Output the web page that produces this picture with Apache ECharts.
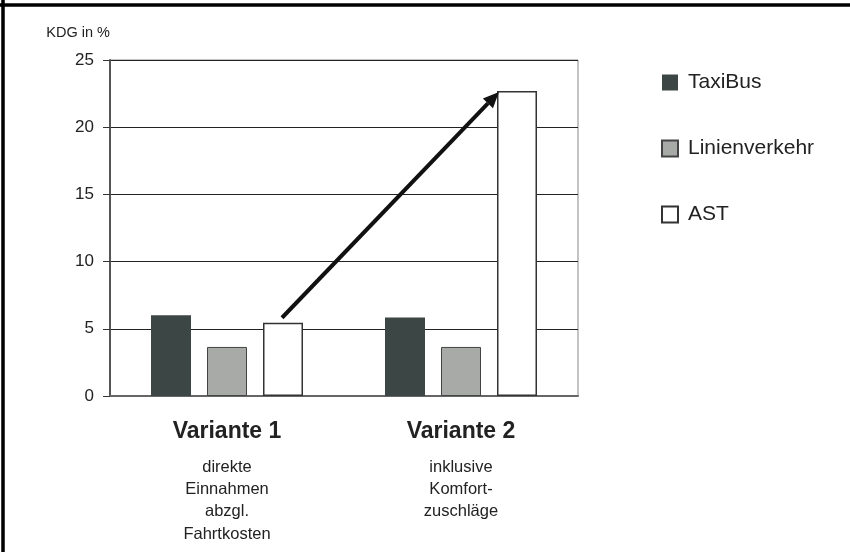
<!DOCTYPE html>
<html>
<head>
<meta charset="utf-8">
<script src="https://cdn.jsdelivr.net/npm/echarts@6/dist/echarts.min.js"></script>
<style>
  html, body { margin: 0; padding: 0; background: #fff; }
  #chart { width: 850px; height: 552px; }
</style>
</head>
<body>
<div id="chart"></div>
<script>
// Daten
const categories = ['Variante 1', 'Variante 2'];
const subLabels = [
    ['direkte', 'Einnahmen', 'abzgl.', 'Fahrtkosten'],
    ['inklusive', 'Komfort-', 'zuschläge']
];
const taxiBus = [6.0, 5.85];
const linienverkehr = [3.65, 3.65];
const ast = [5.45, 22.7];
const yTicks = [0, 5, 10, 15, 20, 25];

const BAR_W = 40;
const BAR_GAP = 16;

const chart = echarts.init(document.getElementById('chart'));

const option = {
    animation: false,
    textStyle: { fontFamily: 'Liberation Sans, Arial, sans-serif', color: '#222' },
    grid: {
        left: 110, right: 272, top: 60, bottom: 156,
        show: true, borderColor: '#888', borderWidth: 1
    },
    legend: {
        orient: 'vertical',
        left: 656, top: 67,
        itemWidth: 16, itemHeight: 16, itemGap: 45,
        icon: 'rect',
        selectedMode: false,
        textStyle: { fontSize: 21, color: '#222', padding: [0, 0, 0, 5] },
        data: ['TaxiBus', 'Linienverkehr', 'AST']
    },
    xAxis: {
        type: 'category',
        data: categories,
        axisLine: { lineStyle: { color: '#666', width: 2 } },
        axisTick: { length: 7, lineStyle: { color: '#333' } },
        axisLabel: {
            margin: 12,
            interval: 0,
            formatter: (val, idx) => '{t|' + val + '}\n' + subLabels[idx].map(s => '{s|' + s + '}').join('\n'),
            rich: {
                t: { fontSize: 23, fontWeight: 'bold', lineHeight: 48, color: '#222' },
                s: { fontSize: 16.5, lineHeight: 22.3, color: '#222' }
            }
        }
    },
    yAxis: {
        type: 'value',
        min: 0, max: 25, interval: 5,
        name: 'KDG in %',
        nameLocation: 'end',
        nameGap: 20,
        nameTextStyle: { align: 'right', fontSize: 14.5, color: '#222' },
        axisLine: { show: true, lineStyle: { color: '#555', width: 2 } },
        axisTick: { show: true, length: 7, lineStyle: { color: '#333' } },
        axisLabel: { fontSize: 17, margin: 16, color: '#222',
            formatter: v => yTicks.includes(v) ? String(v) : '' },
        splitLine: { lineStyle: { color: '#222', width: 1 } }
    },
    series: [
        {
            name: 'TaxiBus', type: 'bar', data: taxiBus,
            barWidth: BAR_W, barGap: (BAR_GAP / BAR_W * 100) + '%',
            itemStyle: { color: '#3c4644' }
        },
        {
            name: 'Linienverkehr', type: 'bar', data: linienverkehr,
            barWidth: BAR_W,
            itemStyle: { color: '#a8aaa8', borderColor: '#444', borderWidth: 1 }
        },
        {
            name: 'AST', type: 'bar', data: ast,
            barWidth: BAR_W,
            itemStyle: { color: '#fff', borderColor: '#333', borderWidth: 1.5 }
        }
    ]
};
chart.setOption(option);

// Pfeil von AST Variante 1 zu AST Variante 2
const off = BAR_W + BAR_GAP;
const p1 = chart.convertToPixel({ gridIndex: 0 }, [0, ast[0]]);
const p2 = chart.convertToPixel({ gridIndex: 0 }, [1, ast[1]]);
const x1 = p1[0] + off - 1, y1 = p1[1] - 5;
const x2 = p2[0] + off - BAR_W / 2 + 2, y2 = p2[1] + 1;
const ang = Math.atan2(y2 - y1, x2 - x1);
const headLen = 16, headW = 7;
const bx = x2 - headLen * Math.cos(ang), by = y2 - headLen * Math.sin(ang);
const nx = -Math.sin(ang), ny = Math.cos(ang);

chart.setOption({
    graphic: [
        {
            type: 'line', z: 100,
            shape: { x1: x1, y1: y1, x2: bx, y2: by },
            style: { stroke: '#111', lineWidth: 4 }
        },
        {
            type: 'polygon', z: 100,
            shape: { points: [[x2, y2], [bx + nx * headW, by + ny * headW], [bx - nx * headW, by - ny * headW]] },
            style: { fill: '#111' }
        },
        // Rahmen oben und links
        {
            type: 'line', z: 100, silent: true,
            shape: { x1: 0, y1: 5, x2: 850, y2: 5 },
            style: { stroke: '#000', lineWidth: 3.5 }
        },
        {
            type: 'line', z: 100, silent: true,
            shape: { x1: 3, y1: 0, x2: 3, y2: 552 },
            style: { stroke: '#000', lineWidth: 3.5 }
        }
    ]
});
</script>
</body>
</html>
